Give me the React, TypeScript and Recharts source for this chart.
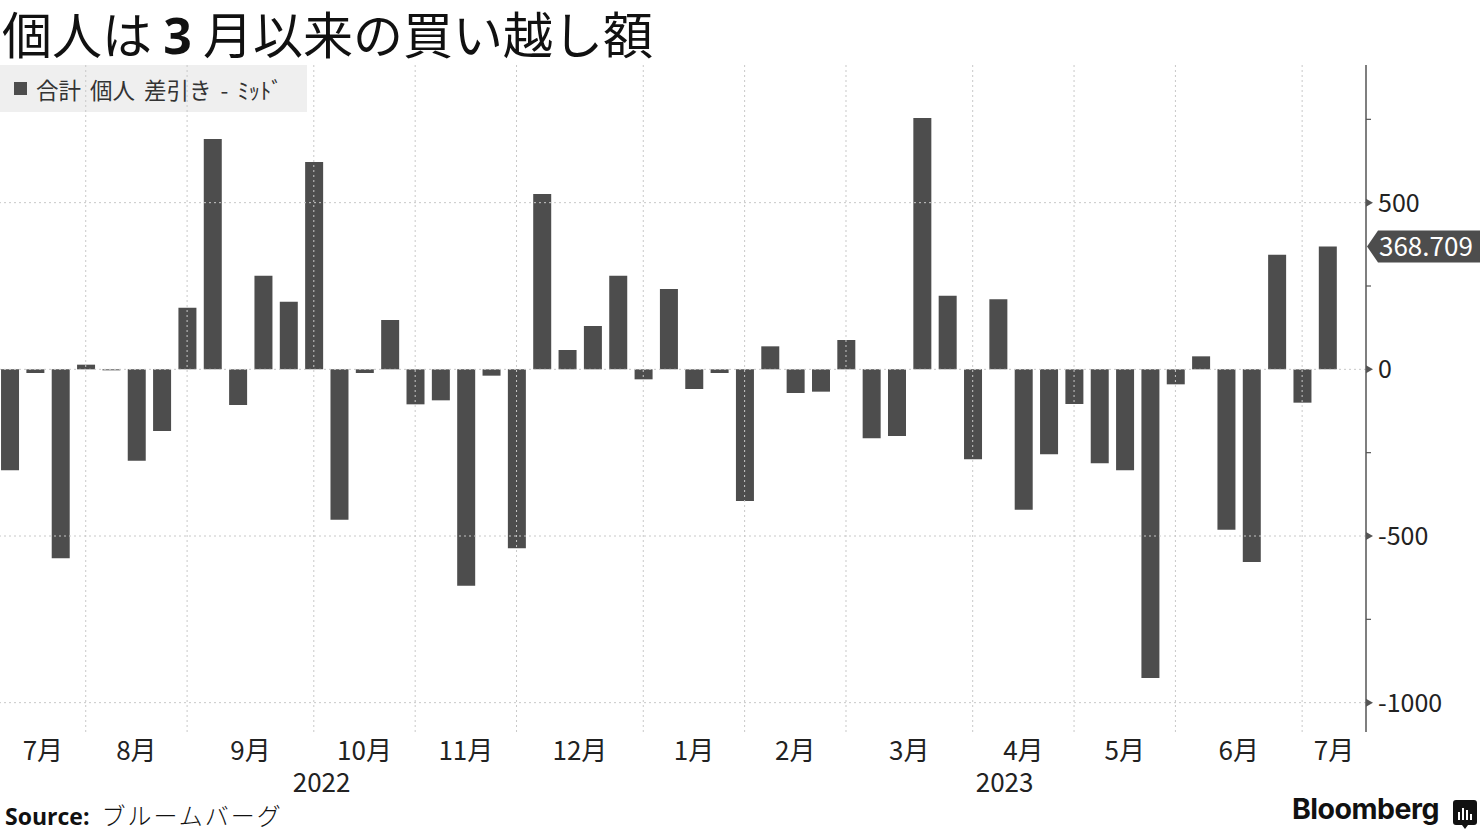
import React from "react";
import { BarChart, Bar, XAxis, YAxis, ReferenceLine } from "recharts";

// Weekly net individual buying (合計 個人 差引き), oldest first
const values: number[] = [
  -303, -11, -567, 14, -3, -274, -185, 185, 691, -107, 281, 203, 622, -451,
  -11, 148, -105, -93, -649, -19, -537, 526, 58, 130, 281, -30, 241, -59, -11,
  -395, 69, -71, -67, 88, -207, -200, 754, 221, -270, 210, -421, -255, -104,
  -282, -303, -926, -45, 39, -481, -578, 344, -100, 368.709,
];

// index of the week at which each month begins (gridline)
const monthStarts: number[] = [3, 7, 12, 16, 20, 25, 29, 33, 38, 42, 46, 51];
const monthLabels: string[] = [
  "7月", "8月", "9月", "10月", "11月", "12月", "1月", "2月", "3月", "4月", "5月", "6月", "7月",
];
const yearLabels: string[] = ["2022", "2023"];
const yearStartIndex = 25; // first week of 2023 (January)

const yMajorTicks: number[] = [-1000, -500, 0, 500];
const yAllTicks: number[] = [-1000, -750, -500, -250, 0, 250, 500, 750];

const X_DOMAIN: [number, number] = [-0.383, 53.52];
const Y_DOMAIN: [number, number] = [-1088, 913];

const data = values.map((v, i) => ({ i, v }));
const bounds = [X_DOMAIN[0], ...monthStarts, X_DOMAIN[1]];
const monthTicks = monthLabels.map((_, k) => (bounds[k] + bounds[k + 1]) / 2);
const yearTicks = [(X_DOMAIN[0] + yearStartIndex) / 2, (yearStartIndex + X_DOMAIN[1]) / 2];

const FONT = "'Noto Sans CJK JP', 'Noto Sans', sans-serif";
const BAR = "#4d4d4d";
const GRID = "#c8c8c8";
const AXIS = "#555";

const MonthTick = (props: any) => {
  const { x, y, index } = props;
  return (
    <text x={x} y={y} dy={28} textAnchor="middle" fontSize={26} fill="#222" fontFamily={FONT}>
      {monthLabels[index]}
    </text>
  );
};

const YearTick = (props: any) => {
  const { x, y, index } = props;
  return (
    <text x={x} y={y} dy={30} textAnchor="middle" fontSize={26} fill="#222" fontFamily={FONT}>
      {yearLabels[index]}
    </text>
  );
};

const YTick = (props: any) => {
  const { x, y, payload } = props;
  const v = payload.value;
  const major = yMajorTicks.includes(v);
  if (!major) {
    return <line x1={x} x2={x + 5} y1={y} y2={y} stroke={AXIS} strokeWidth={1.2} />;
  }
  return (
    <g>
      <polygon points={`${x},${y - 4} ${x + 7},${y} ${x},${y + 4}`} fill={AXIS} />
      <text x={x + 12} y={y} dy="0.36em" fontSize={25} fill="#222" fontFamily={FONT}>
        {String(v)}
      </text>
    </g>
  );
};

const lastValue = values[values.length - 1];

const ValueTag = (props: any) => {
  const vb = props.viewBox || {};
  const x = (vb.x || 0) + (vb.width || 0);
  const y = vb.y || 0;
  return (
    <g>
      <polygon
        points={`${x + 1},${y} ${x + 12},${y - 16} ${x + 114},${y - 16} ${x + 114},${y + 16} ${x + 12},${y + 16}`}
        fill={BAR}
      />
      <text x={x + 13} y={y} dy="0.36em" fontSize={26} fill="#fff" fontFamily={FONT}>
        {lastValue.toFixed(3)}
      </text>
    </g>
  );
};

export default function App() {
  return (
    <div
      style={{
        position: "absolute",
        left: 0,
        top: 0,
        width: 1480,
        height: 832,
        overflow: "hidden",
        background: "#fff",
        fontFamily: FONT,
      }}
    >
      <div
        style={{
          position: "absolute",
          left: 2,
          top: 2,
          fontSize: 50,
          lineHeight: "60px",
          color: "#111",
          whiteSpace: "nowrap",
          fontWeight: 400,
        }}
      >
        個人は <span style={{ fontWeight: 700, fontFamily: "'Noto Sans', sans-serif" }}>3</span> 月以来の買い越し額
      </div>

      <div
        style={{
          position: "absolute",
          left: 0,
          top: 65,
          width: 307,
          height: 47,
          background: "rgba(234,234,234,0.75)",
          display: "flex",
          alignItems: "center",
          color: "#333",
          fontSize: 22.5,
          wordSpacing: 4,
          whiteSpace: "nowrap",
        }}
      >
        <span
          style={{ display: "inline-block", width: 13, height: 13, background: BAR, marginLeft: 14, marginRight: 9 }}
        />
        <span>合計 個人 差引き - ﾐｯﾄﾞ</span>
      </div>

      <div style={{ position: "absolute", left: 0, top: 0 }}>
        <BarChart
          width={1480}
          height={832}
          data={data}
          margin={{ top: 65, right: 0, bottom: 40, left: 0 }}
          barSize={18}
        >
          <XAxis
            xAxisId="m"
            dataKey="i"
            type="number"
            domain={X_DOMAIN}
            allowDataOverflow
            ticks={monthTicks}
            tick={<MonthTick />}
            interval={0}
            axisLine={false}
            tickLine={false}
            tickSize={0}
            tickMargin={0}
            height={30}
          />
          <XAxis
            xAxisId="y"
            dataKey="i"
            type="number"
            domain={X_DOMAIN}
            allowDataOverflow
            ticks={yearTicks}
            tick={<YearTick />}
            interval={0}
            axisLine={false}
            tickLine={false}
            tickSize={0}
            tickMargin={0}
            height={30}
          />
          <YAxis
            orientation="right"
            type="number"
            domain={Y_DOMAIN}
            allowDataOverflow
            ticks={yAllTicks}
            interval={0}
            width={114}
            tick={<YTick />}
            tickLine={false}
            tickSize={0}
            tickMargin={0}
            axisLine={{ stroke: AXIS, strokeWidth: 1.5 }}
          />
          {yMajorTicks.map((t) => (
            <ReferenceLine key={"h" + t} xAxisId="m" y={t} stroke={GRID} strokeDasharray="2 3" strokeWidth={1} />
          ))}
          {monthStarts.map((m) => (
            <ReferenceLine key={"v" + m} xAxisId="m" x={m} stroke={GRID} strokeDasharray="2 3" strokeWidth={1} />
          ))}
          <Bar xAxisId="m" dataKey="v" fill={BAR} isAnimationActive={false} />
          <ReferenceLine xAxisId="m" y={lastValue} stroke="none" label={<ValueTag />} />
        </BarChart>
      </div>

      <div
        style={{
          position: "absolute",
          left: 5,
          top: 800,
          fontSize: 23,
          lineHeight: "30px",
          color: "#111",
          whiteSpace: "nowrap",
        }}
      >
        <span style={{ fontWeight: 700, fontFamily: "'Open Sans', 'Noto Sans', sans-serif" }}>Source:</span>
        <span style={{ marginLeft: 12, fontWeight: 300, fontSize: 24, letterSpacing: 2 }}>ブルームバーグ</span>
      </div>

      <div
        style={{
          position: "absolute",
          left: 1292,
          top: 795,
          fontSize: 28.5,
          lineHeight: 1,
          fontWeight: 700,
          fontFamily: "Inter, 'Noto Sans', sans-serif",
          color: "#111",
          letterSpacing: -0.5,
        }}
      >
        Bloomberg
      </div>
      <svg style={{ position: "absolute", left: 1453, top: 800 }} width={24} height={30} viewBox="0 0 24 30">
        <path d="M3 0 H21 A3 3 0 0 1 24 3 V22 A3 3 0 0 1 21 25 H15 L12 29 L9 25 H3 A3 3 0 0 1 0 22 V3 A3 3 0 0 1 3 0 Z" fill="#111" />
        <rect x={5} y={12} width={2} height={8} fill="#fff" />
        <rect x={9} y={8} width={2} height={12} fill="#fff" />
        <rect x={13} y={10} width={2} height={10} fill="#fff" />
        <rect x={17} y={14} width={2} height={6} fill="#fff" />
      </svg>
    </div>
  );
}
